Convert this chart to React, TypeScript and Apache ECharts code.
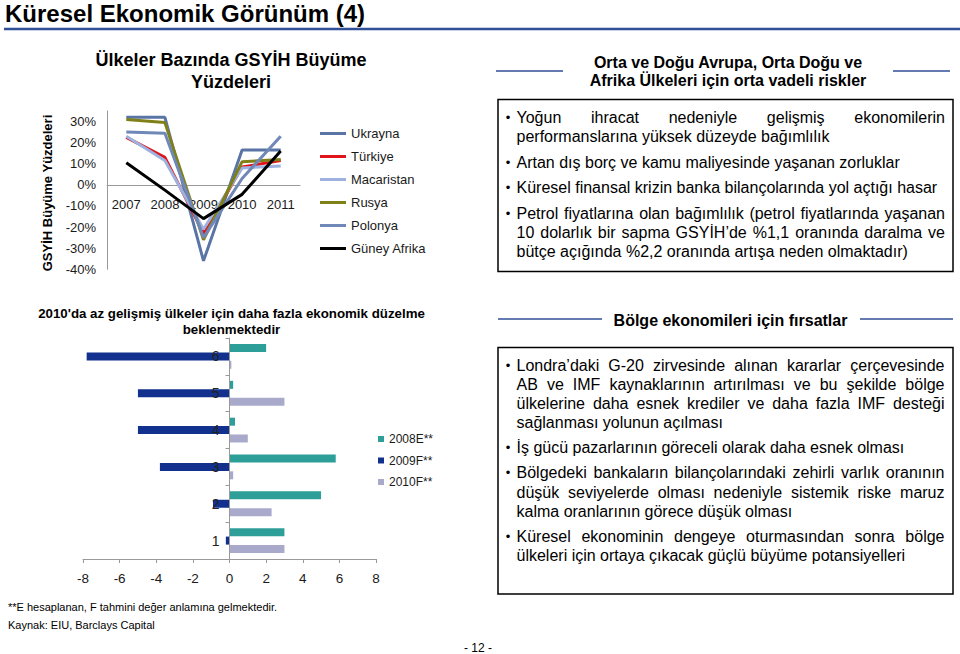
import React, { useEffect, useRef } from 'react';
import * as echarts from 'echarts';

// ---- Data: GDP growth line chart ----
const years = ['2007', '2008', '2009', '2010', '2011'];
const ukrayna = [32, 32, -36, 16.5, 16.5];
const turkiye = [22.5, 13, -23, 8.5, 11.5];
const macaristan = [23, 11.5, -21, 8, 9];
const rusya = [31, 29.5, -26, 11, 12];
const polonya = [25, 24.5, -25, 3, 23];
const guneyAfrika = [10.5, -2.5, -16, -4.5, 16];
const gdpNames = ['Ukrayna', 'Türkiye', 'Macaristan', 'Rusya', 'Polonya', 'Güney Afrika'];
const gdpData = [ukrayna, turkiye, macaristan, rusya, polonya, guneyAfrika];
const gdpColors = ['#5A74A6', '#E0141B', '#9DB2DE', '#808018', '#7088B8', '#000000'];
const gdpMin = -40;
const gdpMax = 35;

// ---- Data: bar chart ----
const barCategories = ['1', '2', '3', '4', '5', '6'];
const est2008 = [3, 5, 5.8, 0.3, 0.2, 2];
const fc2009 = [-0.2, -0.9, -3.8, -5, -5, -7.8];
const fc2010 = [3, 2.3, 0.2, 1, 3, 0.1];
const barNames = ['2008E**', '2009F**', '2010F**'];
const barData = [est2008, fc2009, fc2010];
const barColors = ['#2E9F98', '#12318F', '#A9AACB'];
const barMin = -8;
const barMax = 8;

// ---- Text content ----
const risksLines = [
  { text: 'Yoğun ihracat nedeniyle gelişmiş ekonomilerin', y: 117.7, bullet: true, justify: true },
  { text: 'performanslarına yüksek düzeyde bağımlılık', y: 136.7 },
  { text: 'Artan dış borç ve kamu maliyesinde yaşanan zorluklar', y: 162.7, bullet: true },
  { text: 'Küresel finansal krizin banka bilançolarında yol açtığı hasar', y: 187.7, bullet: true },
  { text: 'Petrol fiyatlarına olan bağımlılık (petrol fiyatlarında yaşanan', y: 213.3, bullet: true, justify: true },
  { text: '10 dolarlık bir sapma GSYİH’de %1,1 oranında daralma ve', y: 232.7, justify: true },
  { text: 'bütçe açığında %2,2 oranında artışa neden olmaktadır)', y: 251.7 },
];
const oppLines = [
  { text: 'Londra’daki G-20 zirvesinde alınan kararlar çerçevesinde', y: 365, bullet: true, justify: true },
  { text: 'AB ve IMF kaynaklarının artırılması ve bu şekilde bölge', y: 384.3, justify: true },
  { text: 'ülkelerine daha esnek krediler ve daha fazla IMF desteği', y: 403.3, justify: true },
  { text: 'sağlanması yolunun açılması', y: 422.7 },
  { text: 'İş gücü pazarlarının göreceli olarak daha esnek olması', y: 447, bullet: true },
  { text: 'Bölgedeki bankaların bilançolarındaki zehirli varlık oranının', y: 472.7, bullet: true, justify: true },
  { text: 'düşük seviyelerde olması nedeniyle sistemik riske maruz', y: 492, justify: true },
  { text: 'kalma oranlarının görece düşük olması', y: 511 },
  { text: 'Küresel ekonominin dengeye oturmasından sonra  bölge', y: 536, bullet: true, justify: true },
  { text: 'ülkeleri için ortaya çıkacak güçlü büyüme potansiyelleri', y: 555.3 },
];

const FONT = "'Liberation Sans', Arial, Helvetica, sans-serif";
const RULE = '#2F4F96';

// layout of the two plot areas
const G1 = { left: 107, top: 111, width: 193, height: 158.3 };
const G2 = { left: 83, top: 338, width: 293, height: 221 };

// thin-line legend icon (bounding box 26x13, stroke band in the middle)
const LINE_ICON =
  'path://M0,0L0.01,0L0.01,0.01L0,0.01Z M0,5L26,5L26,8L0,8Z M26,13L25.99,13L25.99,12.99L26,12.99Z';

let measureCtx: CanvasRenderingContext2D | null = null;
function measure(t: string, size: number, bold = false): number {
  if (!measureCtx) measureCtx = document.createElement('canvas').getContext('2d');
  if (!measureCtx) return t.length * size * 0.5;
  measureCtx.font = `${bold ? 'bold ' : ''}${size}px "Liberation Sans"`;
  return measureCtx.measureText(t).width;
}

function txt(text: string, x: number, y: number, size: number, opts: any = {}) {
  return {
    type: 'text',
    x,
    y,
    rotation: opts.rotation || 0,
    style: {
      text,
      fontSize: size,
      fontFamily: FONT,
      fontWeight: opts.bold ? 'bold' : 'normal',
      fill: opts.fill || '#000',
      align: opts.align || 'left',
      verticalAlign: 'middle',
      textAlign: opts.align || 'left',
      textVerticalAlign: 'middle',
    },
  };
}

function bodyText(lines: any[], left: number, right: number, size: number) {
  const out: any[] = [];
  lines.forEach((l) => {
    if (l.bullet) out.push(txt('•', 508, l.y, 13, { align: 'center' }));
    if (l.justify) {
      const words = l.text.split(/\s+/).filter((w: string) => w.length);
      const widths = words.map((w: string) => measure(w, size));
      const total = widths.reduce((a: number, b: number) => a + b, 0);
      const gap = (right - left - total) / (words.length - 1);
      let x = left;
      words.forEach((w: string, i: number) => {
        out.push(txt(w, x, l.y, size));
        x += widths[i] + gap;
      });
    } else {
      out.push(txt(l.text, left, l.y, size));
    }
  });
  return out;
}

function hline(x1: number, x2: number, y: number, color: string, w: number) {
  return { type: 'line', shape: { x1, y1: y, x2, y2: y }, style: { stroke: color, lineWidth: w } };
}

function box(x: number, y: number, w: number, h: number) {
  return { type: 'rect', shape: { x, y, width: w, height: h }, style: { fill: 'none', stroke: '#000', lineWidth: 1.5 } };
}

export default function App() {
  const ref = useRef<HTMLDivElement>(null);
  useEffect(() => {
    if (!ref.current) return;
    const chart = echarts.init(ref.current, null, { renderer: 'svg' });

    // axes crossing at zero (moved there with axis offset)
    const zeroY = G1.top + (gdpMax / (gdpMax - gdpMin)) * G1.height;
    const xAxisOffset1 = -(G1.top + G1.height - zeroY);
    const zeroX = G2.left + (-barMin / (barMax - barMin)) * G2.width;
    const yAxisOffset2 = -(zeroX - G2.left);

    const graphics: any[] = [
      txt('Küresel Ekonomik Görünüm (4)', 5, 13, 24, { bold: true }),
      hline(4, 960, 29, RULE, 2.5),
      txt('Ülkeler Bazında GSYİH Büyüme', 231, 60, 18, { bold: true, align: 'center' }),
      txt('Yüzdeleri', 231, 82, 18, { bold: true, align: 'center' }),
      txt('GSYİH Büyüme Yüzdeleri', 47.5, 193, 13, { bold: true, align: 'center', rotation: Math.PI / 2 }),
      txt('Orta ve Doğu Avrupa, Orta Doğu ve', 728, 62.7, 16, { bold: true, align: 'center' }),
      txt('Afrika Ülkeleri için orta vadeli riskler', 728, 80.7, 16, { bold: true, align: 'center' }),
      hline(496, 563, 71, RULE, 1.5),
      hline(893, 950, 71, RULE, 1.5),
      box(498, 99.5, 455, 172),
      ...bodyText(risksLines, 516.5, 945, 16),
      txt('Bölge ekonomileri için fırsatlar', 730.5, 320, 16, { bold: true, align: 'center' }),
      hline(498, 602, 319, RULE, 1.5),
      hline(860, 953, 319, RULE, 1.5),
      box(498, 347.5, 455, 246.5),
      ...bodyText(oppLines, 516.5, 944.5, 16),
      txt("2010'da az gelişmiş ülkeler için daha fazla ekonomik düzelme", 231.5, 313.3, 13.3, { bold: true, align: 'center' }),
      txt('beklenmektedir', 231.5, 329.3, 13.3, { bold: true, align: 'center' }),
      txt('**E hesaplanan, F tahmini değer anlamına gelmektedir.', 8, 606.7, 11),
      txt('Kaynak: EIU, Barclays Capital', 8, 625, 11),
      txt('- 12 -', 478, 648, 12, { align: 'center' }),
    ];

    const option: any = {
      animation: false,
      textStyle: { fontFamily: FONT },
      grid: [
        { ...G1 },
        { ...G2 },
      ],
      xAxis: [
        {
          gridIndex: 0,
          type: 'category',
          data: years,
          boundaryGap: true,
          position: 'bottom',
          offset: xAxisOffset1,
          axisLine: { onZero: false, lineStyle: { color: '#999', width: 1 } },
          axisTick: { show: false },
          axisLabel: { margin: 13, fontSize: 13, color: '#1a1a1a' },
        },
        {
          gridIndex: 1,
          type: 'value',
          min: barMin,
          max: barMax,
          interval: 2,
          splitLine: { show: false },
          axisLine: { show: true, onZero: false, lineStyle: { color: '#999' } },
          axisTick: { show: true, length: 4, lineStyle: { color: '#999' } },
          axisLabel: { fontSize: 13.5, margin: 12, color: '#1a1a1a' },
        },
      ],
      yAxis: [
        {
          gridIndex: 0,
          type: 'value',
          min: gdpMin,
          max: gdpMax,
          interval: 10,
          splitLine: { show: false },
          axisLine: { show: true, onZero: false, lineStyle: { color: '#999' } },
          axisTick: { show: false },
          axisLabel: {
            fontSize: 13,
            margin: 11,
            color: '#1a1a1a',
            showMaxLabel: false,
            formatter: (v: number) => `${v}%`,
          },
        },
        {
          gridIndex: 1,
          type: 'category',
          data: barCategories,
          position: 'left',
          offset: yAxisOffset2,
          z: 5,
          axisLine: { show: true, onZero: false, lineStyle: { color: '#999' } },
          axisTick: { show: true, length: 4, lineStyle: { color: '#999' } },
          axisLabel: { fontSize: 14, margin: 10, color: '#222' },
        },
      ],
      legend: [
        {
          data: gdpNames.map((n) => ({ name: n, icon: LINE_ICON })),
          orient: 'vertical',
          left: 320,
          top: 127,
          padding: 0,
          itemWidth: 26,
          itemHeight: 13,
          itemGap: 10,
          selectedMode: false,
          textStyle: { fontSize: 13, color: '#1a1a1a', fontFamily: FONT },
        },
        {
          data: barNames.map((n) => ({ name: n, icon: 'rect' })),
          orient: 'vertical',
          left: 378,
          top: 433,
          padding: 0,
          itemWidth: 6,
          itemHeight: 6,
          itemGap: 9.5,
          selectedMode: false,
          textStyle: { fontSize: 12, color: '#1a1a1a', fontFamily: FONT },
        },
      ],
      series: [
        ...gdpNames.map((name, i) => ({
          name,
          type: 'line',
          xAxisIndex: 0,
          yAxisIndex: 0,
          data: gdpData[i],
          symbol: 'none',
          color: gdpColors[i],
          lineStyle: { width: 3, color: gdpColors[i] },
        })),
        ...barNames.map((name, i) => ({
          name,
          type: 'bar',
          xAxisIndex: 1,
          yAxisIndex: 1,
          data: barData[i],
          barWidth: 8,
          barGap: '5%',
          itemStyle: { color: barColors[i] },
        })),
      ],
      graphic: graphics,
    };
    chart.setOption(option);
    return () => chart.dispose();
  }, []);
  return <div ref={ref} style={{ position: 'absolute', left: 0, top: 0, width: 960, height: 654, background: '#fff' }} />;
}
